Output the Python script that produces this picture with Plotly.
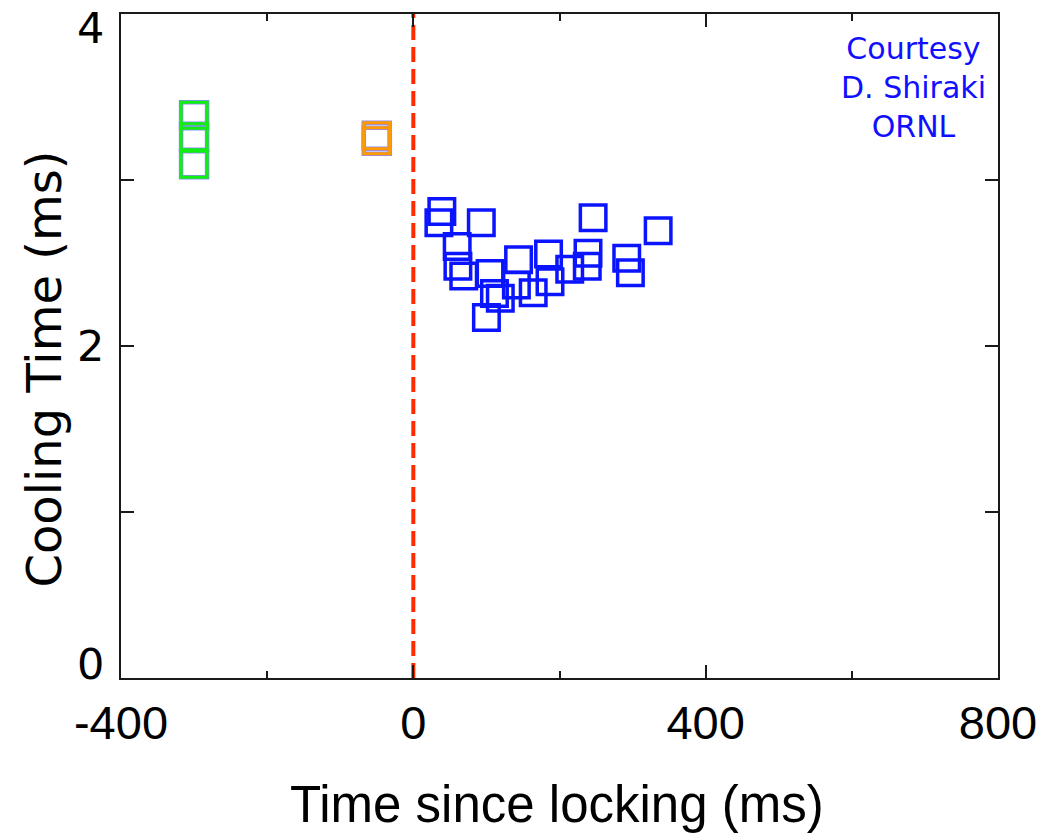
import plotly.graph_objects as go

# ---- data ----
green_t = [-300, -300, -300]
green_cool = [3.39, 3.26, 3.095]

orange_t = [-50, -50]
orange_cool = [3.267, 3.237]

blue_t = [39, 35, 93, 60, 61, 69, 105, 144, 185, 111, 119, 100, 141, 164, 187,
          246, 239, 238, 214, 292, 297, 335]
blue_cool = [2.81, 2.743, 2.743, 2.599, 2.481, 2.421, 2.437, 2.52, 2.554, 2.317,
             2.288, 2.172, 2.367, 2.321, 2.387, 2.773, 2.558, 2.481, 2.462, 2.528,
             2.442, 2.695]

lock_t = [0, 0]
lock_y = [0, 4]

x_tick_vals = [-400, 0, 400, 800]
x_tick_text = ["-400", "0", "400", "800"]
y_tick_vals = [0, 2, 4]
y_tick_text = ["0", "2", "4"]

fig = go.Figure()

# dashed locking line
fig.add_trace(go.Scatter(x=lock_t, y=lock_y, mode="lines",
                         line=dict(color="#ff2a00", width=4, dash="15px,7px"),
                         hoverinfo="skip", showlegend=False))

def squares(x, y, color, size, width, edge=None):
    if edge:
        fig.add_trace(go.Scatter(x=x, y=y, mode="markers", showlegend=False,
                                 marker=dict(symbol="square-open", size=size,
                                             color=edge, line=dict(color=edge, width=width + 1.5))))
    fig.add_trace(go.Scatter(x=x, y=y, mode="markers", showlegend=False,
                             marker=dict(symbol="square-open", size=size,
                                         color=color, line=dict(color=color, width=width))))

squares(green_t, green_cool, "#11ee11", 26, 3, edge="#8a8aff")
squares(orange_t, orange_cool, "#ff9a00", 26, 3, edge="#8a8aff")
squares(blue_t, blue_cool, "#0a14ff", 25.5, 3.5)

axis_common = dict(showline=True, linecolor="#1a1a1a", linewidth=2, mirror="allticks",
                   ticks="inside", tickcolor="#1a1a1a", tickwidth=1.5,
                   showgrid=False, zeroline=False)

fig.update_xaxes(range=[-400, 800], tickvals=x_tick_vals, ticktext=x_tick_text, ticklen=13,
                 minor=dict(dtick=200, ticks="inside", ticklen=7, tickcolor="#1a1a1a",
                            tickwidth=1.5, showgrid=False),
                 tickfont=dict(family="Liberation Sans, Arial, sans-serif", size=47, color="black"),
                 ticklabelstandoff=3,
                 **axis_common)
fig.update_yaxes(range=[0, 4], tickvals=y_tick_vals, ticklen=13, showticklabels=False,
                 minor=dict(dtick=1, ticks="inside", ticklen=13, tickcolor="#1a1a1a",
                            tickwidth=1.5, showgrid=False),
                 **axis_common)

annotations = []
y_label_shift = {0: 14, 2: 0, 4: -14}
for v, t in zip(y_tick_vals, y_tick_text):
    annotations.append(dict(xref="paper", yref="y", x=-0.018, y=v, text=t,
                            xanchor="right", yanchor="middle", yshift=y_label_shift[v],
                            showarrow=False, borderpad=0,
                            font=dict(family="DejaVu Sans, sans-serif", size=43, color="black")))

annotations.append(dict(xref="paper", yref="paper", x=0.4977, y=-0.191,
                        text="Time since locking (ms)", showarrow=False,
                        xanchor="center", yanchor="middle",
                        font=dict(family="Liberation Sans, Arial, sans-serif", size=51, color="black")))
annotations.append(dict(xref="paper", yref="paper", x=-0.0878, y=0.466,
                        text="Cooling Time (ms)", showarrow=False, textangle=-90,
                        xanchor="center", yanchor="middle",
                        font=dict(family="DejaVu Sans, sans-serif", size=48, color="black")))
annotations.append(dict(xref="paper", yref="paper", x=0.904, y=0.890,
                        text="Courtesy<br>D. Shiraki<br>ORNL", showarrow=False,
                        xanchor="center", yanchor="middle", align="center",
                        font=dict(family="DejaVu Sans, sans-serif", size=30, color="#1010ff")))

fig.update_layout(width=1055, height=836,
                  margin=dict(l=121, r=57, t=14, b=158, autoexpand=False),
                  plot_bgcolor="white", paper_bgcolor="white",
                  showlegend=False, annotations=annotations)

fig.write_html("out.html")
